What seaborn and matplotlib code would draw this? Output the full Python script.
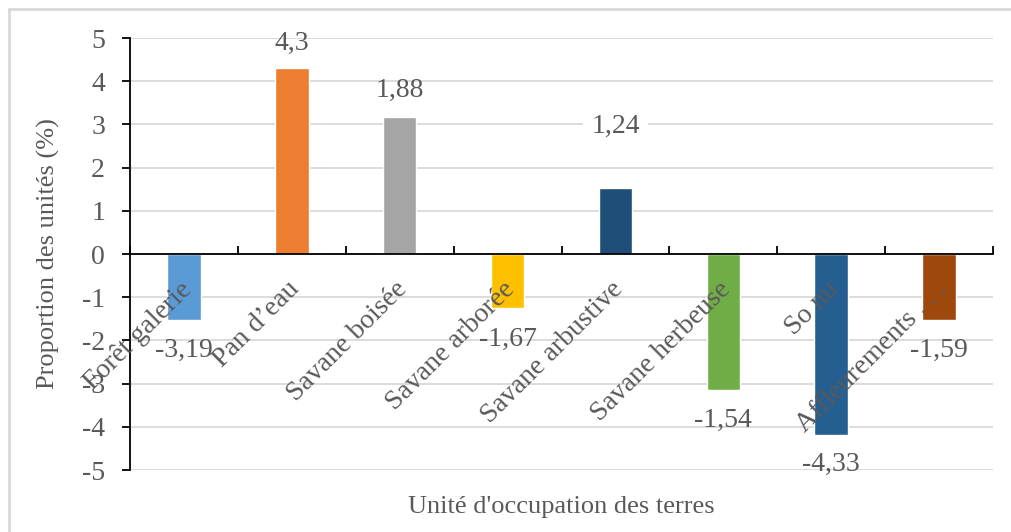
import matplotlib
matplotlib.use("Agg")
import matplotlib.pyplot as plt
import matplotlib.transforms as mtrans
import seaborn as sns
import pandas as pd
from matplotlib.lines import Line2D

# ---- data ----
categories = ["Forêt galerie", "Pan d’eau", "Savane boisée", "Savane arborée",
              "Savane arbustive", "Savane herbeuse", "So nu", "Affleurements . . ."]
bar_values = [-1.53, 4.30, 3.16, -1.24, 1.53, -3.15, -4.20, -1.53]
value_labels = ["-3,19", "4,3", "1,88", "-1,67", "1,24", "-1,54", "-4,33", "-1,59"]
colors = ["#5B9BD5", "#ED7D31", "#A5A5A5", "#FFC000", "#1F4E79", "#70AD47", "#255E91", "#9E480E"]
y_ticks = [-5, -4, -3, -2, -1, 0, 1, 2, 3, 4, 5]

# label offsets in pixels (positive = up)
label_offsets = [-30, 25, 27, -32, 61, -30, -29, -30]

sns.set_theme(style="white")
plt.rcParams["font.family"] = ["Liberation Serif", "DejaVu Serif"]
TXT = "#595959"
FS = 20

W, H = 1011, 532
fig = plt.figure(figsize=(W / 100, H / 100), dpi=100)
fig.patch.set_facecolor("white")
ax = fig.add_axes([130 / W, (H - 470) / H, (993 - 130) / W, (470 - 38) / H])

df = pd.DataFrame({"cat": categories, "val": bar_values})
sns.barplot(data=df, x="cat", y="val", hue="cat", palette=colors, width=0.31,
            legend=False, ax=ax, saturation=1, zorder=1)

ax.set_ylim(-5, 5)
ax.set_xlim(-0.5, len(categories) - 0.5)
ax.set_yticks(y_ticks)
ax.set_yticklabels([str(t) for t in y_ticks], fontsize=FS, color=TXT)
ax.grid(False)
for t in y_ticks:
    ax.axhline(t, color="#D9D9D9", linewidth=1.3, zorder=0.3)
ax.set_axisbelow(False)
ax.xaxis.set_zorder(5)
ax.yaxis.set_zorder(5)

for s in ["top", "right"]:
    ax.spines[s].set_visible(False)
ax.spines["left"].set_color("black")
ax.spines["left"].set_linewidth(1.3)
ax.spines["bottom"].set_position(("data", 0))
ax.spines["bottom"].set_color("black")
ax.spines["bottom"].set_linewidth(1.3)
ax.spines["bottom"].set_zorder(4)

ax.tick_params(axis="y", which="major", left=True, direction="out", length=6,
               width=1.3, color="black", pad=12)
# x labels
ax.set_xticks(range(len(categories)))
ax.set_xticklabels(categories, rotation=45, ha="right", va="top",
                   rotation_mode="anchor", fontsize=FS, color=TXT)
ax.tick_params(axis="x", which="major", bottom=False, length=0, pad=15)
shift = mtrans.ScaledTranslation(-5 / 100, -2 / 100, fig.dpi_scale_trans)
for lbl in ax.get_xticklabels():
    lbl.set_transform(lbl.get_transform() + shift)
ax.set_xticks([i - 0.5 for i in range(len(categories) + 1)], minor=True)
ax.tick_params(axis="x", which="minor", bottom=True, direction="in", length=6,
               width=1.3, color="black")

ax.set_xlabel("")
ax.set_ylabel("Proportion des unités (%)", fontsize=19, color=TXT, labelpad=16)

# value labels
for i, (v, t, off) in enumerate(zip(bar_values, value_labels, label_offsets)):
    kw = {}
    if i == 4:
        kw["bbox"] = dict(facecolor="white", edgecolor="none", pad=6)
    ax.annotate(t, (i, v), xytext=(0, off * 0.72), textcoords="offset points",
                ha="center", va="center", fontsize=FS, color=TXT, zorder=6, **kw)

fig.text(561.5 / W, 1 - 507 / H, "Unité d'occupation des terres", ha="center",
         va="center", fontsize=19, color=TXT)

# outer chart frame
fig.add_artist(Line2D([9 / W, 1.0], [1 - 9 / H, 1 - 9 / H], transform=fig.transFigure,
                      color="#D9D9D9", linewidth=2))
fig.add_artist(Line2D([9 / W, 9 / W], [0, 1 - 9 / H], transform=fig.transFigure,
                      color="#D9D9D9", linewidth=2))

fig.savefig("out.png", dpi=100, facecolor="white")
